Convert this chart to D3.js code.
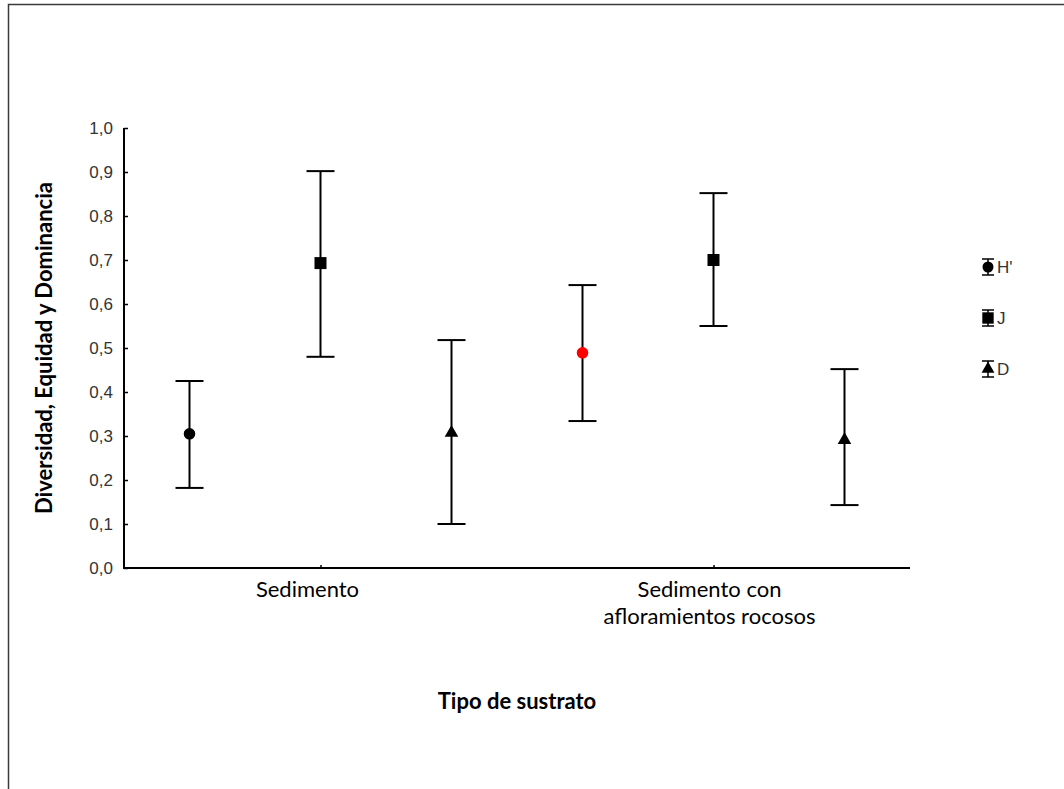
<!DOCTYPE html>
<html>
<head>
<meta charset="utf-8">
<script src="https://cdn.jsdelivr.net/npm/d3@7"></script>
<style>
  body { margin: 0; background: #fff; }
  .tick-label, .legend-label { font-family: "Liberation Sans", Arial, sans-serif; font-size: 17px; fill: #333; }
  .cat-label, .axis-title { font-family: Lato, "Open Sans", sans-serif; font-size: 22px; fill: #000; }
  .axis-title { font-weight: bold; }
</style>
</head>
<body>
<script>
const groups = ["Sedimento", "Sedimento con afloramientos rocosos"];
const groupLines = [["Sedimento"], ["Sedimento con", "afloramientos rocosos"]];
const seriesNames = ["H'", "J", "D"];
const yTicks = [0, 0.1, 0.2, 0.3, 0.4, 0.5, 0.6, 0.7, 0.8, 0.9, 1.0];

// mean, lower, upper per group, per series
const hMean = [0.305, 0.489], hLow = [0.182, 0.334], hHigh = [0.425, 0.643];
const jMean = [0.693, 0.700], jLow = [0.480, 0.550], jHigh = [0.902, 0.852];
const dMean = [0.307, 0.291], dLow = [0.100, 0.143], dHigh = [0.518, 0.452];

const data = [];
groups.forEach((g, i) => {
  data.push({ group: g, series: "H'", mean: hMean[i], low: hLow[i], high: hHigh[i] });
  data.push({ group: g, series: "J", mean: jMean[i], low: jLow[i], high: jHigh[i] });
  data.push({ group: g, series: "D", mean: dMean[i], low: dLow[i], high: dHigh[i] });
});

const W = 1064, H = 789;
const svg = d3.select("body").append("svg")
    .attr("width", W)
    .attr("height", H);

// outer frame (runs off the right/bottom edge)
svg.append("rect")
    .attr("x", 8.5).attr("y", 4.5)
    .attr("width", W + 20).attr("height", H + 20)
    .attr("fill", "none")
    .attr("stroke", "#3a3a3a")
    .attr("stroke-width", 1.5);

const plotLeft = 124, plotRight = 910, plotTop = 128, plotBottom = 568;

const x = d3.scalePoint()
    .domain(groups)
    .range([plotLeft, plotRight])
    .padding(0.5);

const xs = d3.scalePoint()
    .domain(seriesNames)
    .range([-131, 131]);

const y = d3.scaleLinear()
    .domain([0, 1])
    .range([plotBottom, plotTop]);

const shape = d3.scaleOrdinal()
    .domain(seriesNames)
    .range([d3.symbolCircle, d3.symbolSquare, d3.symbolTriangle]);
const shapeSize = d3.scaleOrdinal()
    .domain(seriesNames)
    .range([105, 144, 80]);

// y axis
const yAxis = svg.append("g")
    .attr("transform", `translate(${plotLeft},0)`)
    .call(d3.axisLeft(y).tickValues(yTicks).tickSize(-4).tickPadding(11)
      .tickFormat(d => d3.format(".1f")(d).replace(".", ",")));
yAxis.attr("font-size", null).attr("font-family", null);
yAxis.select(".domain").attr("stroke", "#000").attr("stroke-width", 2)
    .attr("d", `M0,${plotTop}V${plotBottom}`);
yAxis.selectAll(".tick line").attr("stroke", "#000").attr("stroke-width", 1.5);
yAxis.selectAll(".tick text").attr("class", "tick-label").attr("fill", null);

// x axis
const xAxis = svg.append("g")
    .attr("transform", `translate(0,${plotBottom})`)
    .call(d3.axisBottom(x).tickSize(-3).tickFormat(""));
xAxis.select(".domain").attr("stroke", "#000").attr("stroke-width", 2)
    .attr("d", `M${plotLeft - 1},0H${plotRight}`);
xAxis.selectAll(".tick line").attr("stroke", "#000").attr("stroke-width", 1.5);

// category labels
const labelShift = [-13, -4];
groupLines.forEach((lines, i) => {
  const cx = x(groups[i]) + labelShift[i];
  const t = svg.append("text")
      .attr("class", "cat-label")
      .attr("x", cx)
      .attr("y", 597)
      .attr("text-anchor", "middle");
  lines.forEach((l, k) => {
    t.append("tspan").attr("x", cx).attr("dy", k === 0 ? 0 : 27).text(l);
  });
});

// axis titles
svg.append("text")
    .attr("class", "axis-title")
    .attr("x", (plotLeft + plotRight) / 2)
    .attr("y", 709)
    .attr("text-anchor", "middle")
    .text("Tipo de sustrato");

svg.append("text")
    .attr("class", "axis-title")
    .attr("transform", `translate(52,${y(0.5)}) rotate(-90)`)
    .attr("text-anchor", "middle")
    .text("Diversidad, Equidad y Dominancia");

// error bars
const bars = svg.selectAll(".bar")
    .data(data)
    .enter().append("g")
    .attr("class", "bar")
    .attr("transform", d => `translate(${x(d.group) + xs(d.series)},0)`);

bars.append("line")
    .attr("y1", d => y(d.low)).attr("y2", d => y(d.high))
    .attr("stroke", "#000").attr("stroke-width", 2);
bars.append("line")
    .attr("x1", -14).attr("x2", 14)
    .attr("y1", d => y(d.high)).attr("y2", d => y(d.high))
    .attr("stroke", "#000").attr("stroke-width", 2);
bars.append("line")
    .attr("x1", -14).attr("x2", 14)
    .attr("y1", d => y(d.low)).attr("y2", d => y(d.low))
    .attr("stroke", "#000").attr("stroke-width", 2);
bars.append("path")
    .attr("transform", d => `translate(0,${y(d.mean)})`)
    .attr("d", d => d3.symbol().type(shape(d.series)).size(shapeSize(d.series))())
    .attr("fill", d => (d.series === "H'" && d.group === groups[1]) ? "#ff0000" : "#000");

// legend
const legend = svg.selectAll(".legend")
    .data(seriesNames)
    .enter().append("g")
    .attr("class", "legend")
    .attr("transform", (d, i) => `translate(988,${267 + i * 51})`);

legend.append("line").attr("y1", -8).attr("y2", 8).attr("stroke", "#000").attr("stroke-width", 1.5);
legend.append("line").attr("x1", -6).attr("x2", 6).attr("y1", -8).attr("y2", -8).attr("stroke", "#000").attr("stroke-width", 1.5);
legend.append("line").attr("x1", -6).attr("x2", 6).attr("y1", 8).attr("y2", 8).attr("stroke", "#000").attr("stroke-width", 1.5);
legend.append("path")
    .attr("d", d => d3.symbol().type(shape(d)).size(shapeSize(d) * 0.9)())
    .attr("fill", "#000");
legend.append("text")
    .attr("class", "legend-label")
    .attr("x", 9)
    .attr("y", 6)
    .text(d => d);
</script>
</body>
</html>
